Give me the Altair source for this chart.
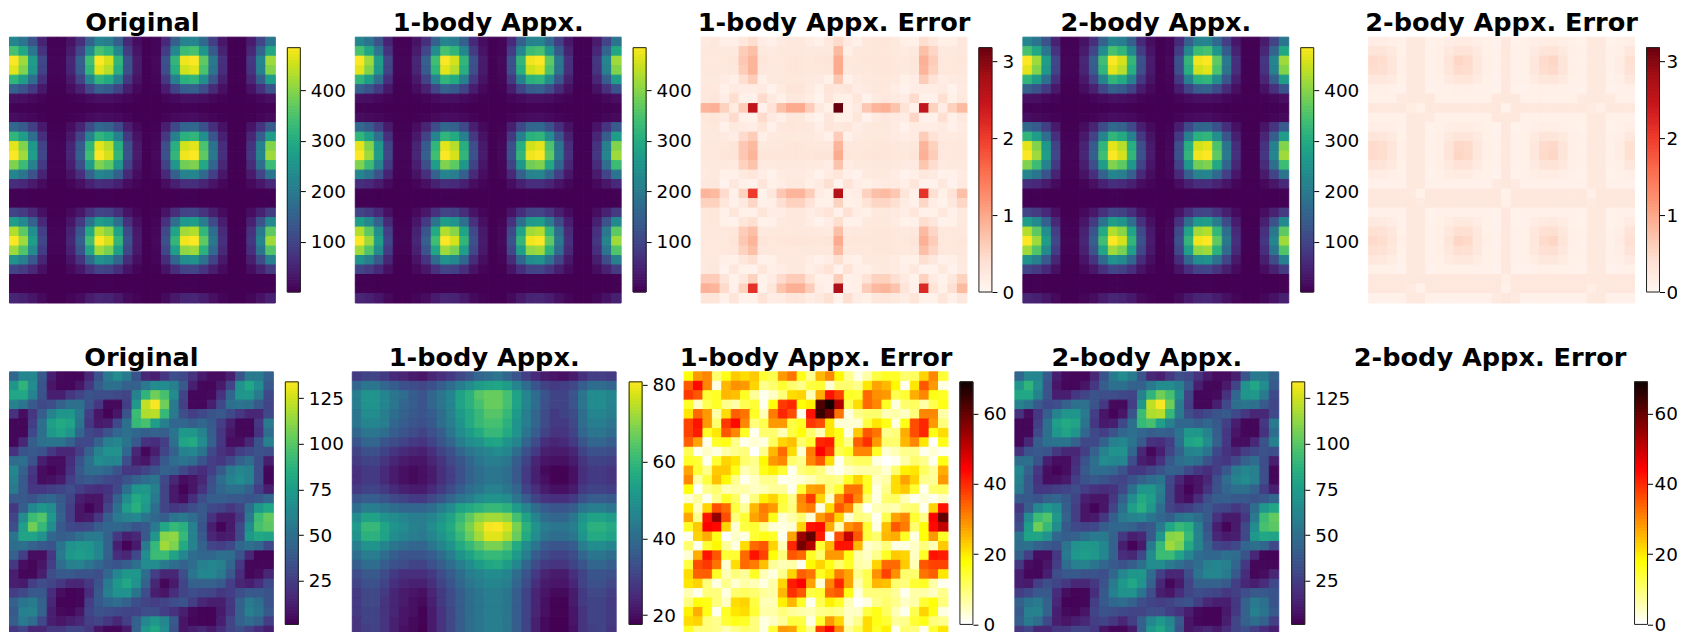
import altair as alt
import pandas as pd

ORIG_A = [
[220,187,122,45,3,3,23,65,150,220,205,144,54,16,2,5,54,144,214,220,164,88,29,2,2,34,99,187],
[343,290,189,70,4,4,35,101,234,343,318,224,84,25,2,7,84,224,332,343,255,136,45,2,2,52,154,290],
[484,415,270,100,5,5,50,145,335,484,455,320,120,35,2,10,120,320,475,484,365,195,65,2,2,75,220,415],
[465,394,256,95,5,5,47,138,318,465,432,304,114,33,2,9,114,304,451,465,347,185,62,2,2,71,209,394],
[318,270,175,65,3,3,32,94,218,318,296,208,78,23,2,6,78,208,309,318,237,127,42,2,2,49,143,270],
[147,124,81,30,2,2,15,43,100,147,136,96,36,10,1,3,36,96,142,147,110,58,20,1,1,22,66,124],
[20,17,11,4,1,1,2,6,13,20,18,13,5,2,1,1,5,13,19,20,15,8,3,1,1,3,9,17],
[3,3,2,1,1,1,1,1,2,3,3,2,1,1,1,1,1,2,3,3,2,1,1,1,1,1,2,3],
[15,12,8,3,1,1,2,4,10,15,14,10,4,1,1,1,4,10,14,15,11,6,2,1,1,2,7,12],
[162,137,89,33,2,2,16,48,110,162,150,106,40,12,1,3,40,106,157,162,120,64,21,1,1,25,73,137],
[318,270,175,65,3,3,32,94,218,318,296,208,78,23,2,6,78,208,309,318,237,127,42,2,2,49,143,270],
[465,394,256,95,5,5,47,138,318,465,432,304,114,33,2,9,114,304,451,465,347,185,62,2,2,71,209,394],
[484,415,270,100,5,5,50,145,335,484,455,320,120,35,2,10,120,320,475,484,365,195,65,2,2,75,220,415],
[392,332,216,80,4,4,40,116,268,392,364,256,96,28,2,8,96,256,380,392,292,156,52,2,2,60,176,332],
[220,187,122,45,3,3,23,65,150,220,205,144,54,16,2,5,54,144,214,220,164,88,29,2,2,34,99,187],
[64,54,35,13,1,1,6,19,44,64,59,42,16,5,1,1,16,42,62,64,47,25,8,1,1,10,29,54],
[2,2,1,1,1,1,1,1,1,2,2,1,1,1,1,1,1,1,2,2,1,1,1,1,1,1,1,2],
[2,2,1,1,1,1,1,1,1,2,2,1,1,1,1,1,1,1,2,2,1,1,1,1,1,1,1,2],
[98,83,54,20,1,1,10,29,67,98,91,64,24,7,1,2,24,64,95,98,73,39,13,1,1,15,44,83],
[270,228,148,55,3,3,28,80,184,270,250,176,66,19,1,6,66,176,261,270,201,107,36,1,1,41,121,228],
[431,365,238,88,4,4,44,128,295,431,400,282,106,31,2,9,106,282,418,431,321,172,57,2,2,66,194,365],
[484,415,270,100,5,5,50,145,335,484,455,320,120,35,2,10,120,320,475,484,365,195,65,2,2,75,220,415],
[416,353,230,85,4,4,42,123,285,416,387,272,102,30,2,8,102,272,404,416,310,166,55,2,2,64,187,353],
[245,208,135,50,2,2,25,72,168,245,228,160,60,18,1,5,60,160,238,245,182,98,32,1,1,38,110,208],
[98,83,54,20,1,1,10,29,67,98,91,64,24,7,1,2,24,64,95,98,73,39,13,1,1,15,44,83],
[2,2,1,1,1,1,1,1,1,2,2,1,1,1,1,1,1,1,2,2,1,1,1,1,1,1,1,2],
[2,2,1,1,1,1,1,1,1,2,2,1,1,1,1,1,1,1,2,2,1,1,1,1,1,1,1,2],
[49,42,27,10,1,1,5,14,34,49,46,32,12,4,1,1,12,32,48,49,36,20,6,1,1,8,22,42],
]

# hundredths
ERR1_A = [
[20,25,12,12,25,42,15,8,20,25,25,15,8,25,45,20,8,25,28,28,22,12,8,42,25,12,12,25],
[25,25,22,22,60,75,22,20,25,25,25,22,22,22,80,12,25,25,28,25,22,18,22,75,50,22,22,25],
[25,25,25,28,65,85,28,25,25,28,28,25,28,30,95,25,25,28,28,28,25,25,28,90,60,25,25,28],
[25,25,22,25,60,85,25,22,25,28,28,25,25,28,95,22,25,25,28,28,25,22,25,85,55,25,25,25],
[22,22,18,12,40,60,12,22,25,25,25,22,20,10,65,8,20,25,25,25,22,10,15,62,35,15,20,22],
[25,25,8,20,15,15,20,5,20,30,30,20,10,30,25,30,15,20,25,25,15,5,15,15,15,20,5,20],
[25,28,15,42,10,8,45,20,10,25,25,15,3,28,12,12,28,5,20,25,20,15,45,8,8,40,10,22],
[85,90,55,18,60,250,8,35,75,95,95,60,22,8,320,10,20,65,85,90,70,35,8,250,55,15,55,80],
[25,28,20,45,8,6,45,20,12,25,25,12,3,28,10,10,28,5,20,25,20,15,50,8,8,40,10,22],
[22,25,8,22,18,15,28,8,25,28,25,25,12,28,22,28,15,22,25,25,18,5,18,15,15,20,8,18],
[22,22,20,15,45,60,12,20,22,22,22,22,18,8,60,8,20,22,25,25,20,15,18,60,35,20,20,22],
[25,25,25,30,65,80,22,25,25,28,28,25,25,25,85,25,25,25,28,28,25,22,25,85,55,25,25,25],
[25,25,28,30,65,85,28,28,28,28,28,28,30,30,95,28,25,28,30,28,25,25,30,90,60,25,25,25],
[22,22,22,20,55,70,20,20,22,22,22,20,20,15,70,15,22,22,25,25,22,20,20,68,42,20,22,22],
[20,22,8,10,22,28,15,5,18,20,20,15,5,18,28,12,5,20,22,22,15,5,12,25,20,8,8,18],
[25,25,5,25,8,5,30,10,15,22,22,12,20,40,5,35,15,10,15,20,18,12,30,5,5,25,5,20],
[85,80,45,8,55,200,6,25,65,85,85,60,18,10,260,12,15,55,75,80,65,30,8,210,40,10,35,75],
[55,55,28,8,22,50,8,12,40,55,55,35,10,10,55,10,12,35,50,50,40,18,8,50,15,6,25,50],
[25,28,8,28,10,8,30,15,15,25,25,15,22,35,8,38,15,10,25,25,20,15,28,8,10,25,8,22],
[25,28,10,5,28,40,6,8,22,25,25,15,5,15,42,8,8,22,25,25,18,6,8,42,28,5,10,22],
[25,25,25,28,60,75,22,22,25,25,25,25,22,20,75,22,25,25,28,28,25,22,25,80,50,25,25,25],
[25,25,25,30,65,85,30,25,28,28,30,28,28,30,95,28,28,28,28,28,25,25,30,90,60,25,25,28],
[25,25,25,28,55,75,25,25,25,25,25,25,25,25,80,25,25,25,28,28,25,22,25,75,50,25,25,25],
[22,22,12,8,25,40,8,10,22,22,22,15,8,15,40,12,8,22,22,22,18,8,10,40,25,8,12,22],
[22,25,5,25,6,5,28,12,15,22,22,12,20,35,5,35,12,12,20,22,18,12,25,5,5,22,5,20],
[60,60,30,6,25,55,6,15,45,60,60,35,10,8,60,8,12,35,55,55,40,20,6,55,18,6,25,55],
[90,85,45,8,55,210,6,28,70,90,90,60,15,8,270,8,12,60,80,85,70,30,8,220,35,10,40,80],
[30,30,8,30,5,6,35,15,18,28,28,15,22,38,6,40,15,10,25,28,22,15,30,6,6,28,8,25],
]

ERR2_A = [
[15,15,12,8,22,22,6,10,15,18,18,14,10,6,24,6,8,14,16,16,14,10,6,22,22,6,10,14],
[30,30,22,10,22,22,8,12,22,32,32,20,10,8,24,8,10,20,30,32,22,12,8,22,22,8,12,26],
[45,42,28,12,22,22,8,12,30,50,45,25,12,8,24,8,10,25,45,50,30,12,8,22,22,8,15,38],
[42,40,28,12,22,22,8,12,28,45,42,25,12,8,24,8,10,25,42,46,30,12,8,22,22,8,15,36],
[26,26,20,10,22,22,8,10,20,28,28,18,10,8,24,8,8,18,26,28,20,10,8,22,22,8,12,24],
[12,12,10,7,22,22,7,8,10,12,12,10,8,6,24,6,7,10,12,12,10,8,7,22,22,7,9,12],
[10,10,10,20,22,22,24,10,10,10,10,10,10,24,24,24,10,10,10,10,10,10,20,22,22,20,10,10],
[24,24,24,24,16,10,24,24,24,24,24,24,24,24,6,24,24,24,24,24,24,24,24,18,12,24,24,24],
[10,10,10,10,22,22,20,10,10,10,10,10,10,24,24,24,10,10,10,10,10,10,10,22,22,10,10,10],
[14,14,12,8,22,22,6,10,14,16,16,12,10,6,24,6,8,12,14,14,12,10,6,22,22,6,10,14],
[30,28,20,10,22,22,8,12,22,30,30,20,10,8,24,8,10,20,30,30,22,12,8,22,22,8,12,26],
[45,42,28,12,22,22,8,12,30,48,45,25,12,8,24,8,10,25,45,48,30,12,8,22,22,8,15,38],
[45,42,28,12,22,22,8,12,30,50,46,25,12,8,24,8,10,25,46,50,30,12,8,22,22,8,15,38],
[32,30,22,10,22,22,8,12,22,34,32,20,10,8,24,8,10,20,32,34,24,12,8,22,22,8,12,28],
[16,16,12,8,22,22,6,10,16,18,18,12,10,6,24,6,8,14,16,16,14,10,6,22,22,6,10,14],
[8,8,8,8,22,22,8,8,8,8,8,8,8,20,24,20,8,8,8,8,8,8,8,22,22,8,8,8],
[26,26,26,26,22,10,26,26,26,26,26,26,26,26,8,26,26,26,26,26,26,26,26,12,24,26,26,26],
[26,26,26,26,26,20,26,26,26,26,26,26,26,26,12,26,26,26,26,26,26,26,26,20,26,26,26,26],
[8,8,8,8,22,22,6,8,8,8,8,8,8,6,24,6,8,8,8,8,8,8,6,22,22,6,8,8],
[22,20,15,8,22,22,6,10,16,22,22,16,10,6,24,6,8,16,20,22,16,10,6,22,22,6,10,18],
[38,36,25,10,22,22,8,12,26,40,38,24,10,8,24,8,10,24,38,40,26,12,8,22,22,8,14,32],
[46,42,28,12,22,22,8,12,30,50,46,25,12,8,24,8,10,25,45,50,30,12,8,22,22,8,15,38],
[38,36,25,10,22,22,8,12,26,40,38,24,10,8,24,8,10,24,38,40,26,12,8,22,22,8,14,32],
[24,24,16,8,22,22,8,10,18,26,26,16,10,8,24,8,8,16,24,26,18,10,8,22,22,8,12,20],
[10,10,9,7,22,22,7,8,10,10,10,9,8,7,24,7,7,9,10,10,9,8,7,22,22,7,8,10],
[24,24,24,24,24,24,24,24,24,24,24,24,24,24,14,24,24,24,24,24,24,24,24,24,24,24,24,24],
[24,24,24,24,20,8,24,24,24,24,24,24,24,24,8,24,24,24,24,24,24,24,24,14,22,24,24,24],
[8,8,8,8,22,22,8,8,8,8,8,8,8,20,24,20,8,8,8,8,8,8,8,22,22,8,8,8],
]

ORIG_B = [
[45,62,62,38,12,4,3,3,15,35,55,65,55,35,15,12,22,32,30,20,10,5,5,12,35,55,55,42],
[70,88,65,35,8,3,3,8,22,40,50,50,42,42,55,65,65,58,38,12,3,3,10,28,68,80,65,38],
[80,80,60,35,12,12,22,28,35,32,32,30,28,60,88,105,95,65,28,3,3,4,20,45,70,72,55,30],
[60,52,38,30,32,42,50,50,35,22,4,4,25,72,122,133,105,55,25,3,3,12,30,50,52,50,38,28],
[20,5,22,40,60,70,70,55,25,8,2,8,35,92,118,120,90,55,32,25,30,35,38,30,22,15,15,30],
[3,3,25,50,75,82,78,52,22,10,12,30,50,90,95,75,58,45,45,40,45,38,25,12,3,3,22,55],
[3,3,30,50,72,78,70,45,30,25,35,45,50,45,40,42,40,52,72,72,60,40,22,8,3,3,20,48],
[3,15,40,50,52,52,42,30,30,42,58,62,52,38,20,18,25,50,78,82,65,42,22,5,5,15,35,58],
[20,35,38,35,22,15,15,25,42,60,68,68,45,15,3,12,28,42,60,62,52,30,20,15,25,30,35,32],
[48,50,35,12,5,5,18,35,50,65,62,62,32,12,8,20,38,48,52,48,35,25,22,30,42,48,32,12],
[62,42,22,5,2,5,20,38,48,48,45,35,22,22,28,35,42,40,30,22,18,25,38,55,62,58,32,3],
[58,38,20,5,6,10,25,35,38,35,30,28,35,42,48,52,30,15,5,8,15,32,48,60,65,58,32,3],
[55,38,22,22,25,28,32,25,20,18,20,30,50,70,72,58,28,10,2,8,20,35,45,50,50,42,25,12],
[38,38,35,42,45,38,28,12,8,8,22,42,65,82,75,55,28,10,5,18,32,40,40,38,38,35,38,45],
[22,40,62,72,65,40,25,8,2,8,28,50,75,85,72,48,28,22,25,32,38,30,28,22,28,48,72,80],
[28,65,92,98,72,42,25,8,10,22,40,55,60,62,52,45,40,52,55,48,38,20,10,10,22,55,92,102],
[32,75,105,90,65,38,30,28,30,40,45,45,42,35,38,55,80,90,85,58,35,12,2,10,30,65,95,100],
[52,78,78,68,45,40,42,50,55,55,42,22,12,15,38,70,110,112,90,60,38,15,10,12,30,72,80,78],
[48,50,42,38,35,52,68,72,70,62,42,12,2,10,55,90,115,108,82,60,42,28,25,30,45,50,45,30],
[42,25,5,5,22,55,72,75,72,62,42,18,15,30,65,92,92,78,62,48,45,45,50,48,35,15,2,2],
[22,5,3,8,25,48,58,60,52,45,38,35,40,50,65,65,55,48,42,48,58,62,58,45,22,3,3,3],
[12,3,3,12,32,38,38,35,35,32,45,62,72,72,48,25,15,15,32,52,62,62,55,38,18,3,5,15],
[12,10,25,32,28,22,15,15,22,35,55,72,80,68,42,15,3,10,28,42,42,42,38,25,15,12,18,30],
[25,30,38,38,18,5,2,3,18,38,58,68,68,52,32,12,8,18,28,32,30,28,22,25,32,38,38,35],
[42,52,55,42,15,2,2,3,25,38,45,48,42,32,28,25,28,32,35,25,15,12,12,22,42,55,50,35],
[38,58,60,42,12,4,3,8,28,35,32,30,28,28,32,32,25,20,12,4,2,2,10,22,42,58,52,38],
[40,55,48,30,12,8,12,15,25,28,22,15,25,42,62,72,62,38,8,3,2,2,12,28,42,48,42,25],
[22,28,15,15,22,22,28,28,22,8,3,3,10,42,72,80,65,35,8,12,15,10,18,28,32,25,18,12],
]

BODY1_B = [
[28,30,30,28,25,24,22,21,24,26,28,31,34,38,40,42,38,34,29,25,22,21,20,22,26,29,29,28],
[38,42,42,38,36,33,32,31,33,36,40,44,48,52,54,55,52,46,40,34,30,28,29,31,36,40,40,38],
[44,50,50,46,42,40,36,34,38,42,46,54,58,64,66,66,62,54,46,40,34,30,30,34,42,48,48,46],
[44,50,50,46,42,38,36,34,38,42,46,54,58,62,66,66,62,54,46,40,33,30,30,34,42,48,48,45],
[42,48,48,44,40,37,35,34,36,40,45,52,56,60,64,64,60,52,44,38,32,28,30,32,40,46,46,44],
[42,46,46,44,38,36,34,33,35,40,44,50,56,60,62,62,58,50,44,38,32,28,28,31,40,44,44,42],
[38,42,42,40,36,34,32,30,33,36,42,48,52,56,60,60,56,50,42,36,30,27,27,30,38,42,42,40],
[34,38,38,34,32,30,28,27,30,34,38,44,48,50,54,55,50,46,38,32,26,24,25,28,34,38,38,36],
[30,33,33,30,27,25,24,23,26,30,33,38,42,44,46,48,46,40,33,28,23,22,22,24,30,33,33,32],
[28,30,30,27,24,22,21,21,24,27,31,34,38,42,44,44,42,36,30,24,21,20,20,22,27,30,30,29],
[26,28,28,25,22,20,19,20,22,26,29,33,37,40,42,42,40,35,28,23,19,18,18,20,26,28,28,27],
[26,28,28,25,22,20,19,20,22,26,29,33,37,40,42,42,40,35,28,23,20,18,18,20,26,28,28,27],
[28,30,30,28,25,23,22,22,25,28,32,36,40,42,45,45,42,38,30,26,22,20,20,22,28,30,30,29],
[34,36,36,34,31,30,28,28,31,34,38,42,44,48,50,50,48,42,36,30,27,26,26,28,33,36,36,35],
[40,44,44,42,40,38,38,38,40,44,48,54,56,58,60,60,58,52,46,40,36,34,34,36,42,44,44,42],
[48,54,54,50,48,46,44,44,46,50,54,60,65,70,72,72,70,62,54,46,40,38,38,42,50,54,54,52],
[52,60,60,55,50,48,45,44,48,52,56,62,68,74,80,81,77,68,58,50,44,42,42,44,52,58,58,56],
[50,58,58,54,48,46,44,43,46,50,54,60,66,72,78,78,74,66,56,48,42,40,40,42,50,56,56,54],
[44,50,50,46,42,40,38,38,42,46,50,56,60,64,68,68,64,56,48,42,36,34,34,36,44,48,48,46],
[40,44,44,40,36,34,34,34,36,40,44,50,54,58,60,60,58,52,44,36,32,30,30,32,38,42,42,40],
[36,40,40,36,33,32,30,30,33,36,40,44,48,52,55,56,52,46,38,32,28,27,27,30,34,38,38,36],
[32,35,35,32,28,26,26,26,28,32,36,40,44,46,48,48,46,40,34,28,24,22,22,26,30,34,34,33],
[30,33,33,30,26,24,23,23,26,30,34,38,42,44,46,46,44,38,32,26,22,21,21,24,30,33,33,31],
[28,31,31,28,24,22,21,20,24,28,32,36,40,42,44,44,42,36,30,24,21,19,19,22,28,31,31,29],
[28,31,31,27,24,22,20,19,23,28,32,36,40,42,44,44,42,36,30,24,20,18,18,22,28,30,30,28],
[28,30,30,27,24,21,20,18,22,27,31,36,40,42,44,44,42,36,30,24,20,18,18,21,27,30,30,28],
[27,30,30,27,23,21,19,18,22,27,31,36,40,42,44,44,42,36,30,23,19,17,17,21,27,30,30,28],
[27,29,30,27,23,20,19,17,22,27,31,36,40,42,44,44,42,36,30,23,19,17,17,20,27,29,30,27],
]

ERR1_B = [
[17,28,30,10,16,23,21,23,14,12,28,32,16,8,25,30,18,8,2,6,13,15,15,10,11,22,30,14],
[35,43,30,2,25,29,28,22,8,10,14,10,8,13,14,3,10,10,8,20,27,25,18,1,20,35,28,2],
[38,35,14,15,25,24,15,7,1,4,9,21,22,5,26,42,37,15,14,33,29,28,12,14,26,30,16,15],
[15,4,12,15,8,6,12,14,1,17,38,40,17,19,62,68,52,12,21,33,30,15,2,10,11,6,12,16],
[20,33,28,6,21,34,32,15,5,31,40,36,1,42,64,58,32,2,8,10,10,5,6,4,9,30,30,6],
[37,42,28,10,38,43,30,9,12,28,28,13,15,38,36,20,3,3,3,13,20,16,2,16,36,40,28,9],
[37,41,15,20,35,30,15,1,10,10,5,13,17,10,5,20,16,2,23,35,32,8,9,26,36,40,16,21],
[34,27,1,15,16,8,1,3,2,11,22,24,10,14,40,41,15,8,34,39,28,10,10,25,30,20,0,16],
[12,1,4,2,6,8,9,0,8,25,33,21,3,31,44,38,12,15,30,30,15,3,5,8,8,1,3,1],
[15,14,1,14,22,20,10,8,18,28,30,10,8,30,35,21,1,9,11,11,2,0,1,6,10,8,1,16],
[27,14,8,23,23,16,5,7,16,19,14,1,9,11,9,3,1,4,6,6,6,3,10,19,20,11,7,26],
[30,6,13,24,18,8,1,4,8,8,1,2,3,5,8,9,8,15,22,15,4,6,21,27,22,8,7,28],
[17,0,8,10,5,6,6,4,5,7,7,1,14,27,28,9,14,32,32,15,2,8,21,23,14,1,10,11],
[3,7,1,8,15,11,2,9,19,22,14,8,30,38,22,4,30,38,30,10,2,10,11,5,1,3,1,4],
[20,4,22,36,33,13,7,25,31,28,13,9,29,31,2,21,35,30,8,0,5,6,5,9,10,1,22,42],
[27,8,42,55,36,9,14,27,30,16,3,6,10,3,28,33,22,3,9,8,1,12,27,30,14,8,44,60],
[15,23,44,43,22,3,13,14,8,3,2,3,22,42,43,26,5,29,32,14,2,24,35,31,10,17,43,50],
[1,22,26,16,0,4,2,14,16,15,1,27,54,60,41,0,36,50,35,13,10,25,26,15,2,17,28,15],
[10,1,14,18,7,2,21,33,35,22,5,40,58,52,14,25,42,42,25,3,5,9,2,2,4,9,5,23],
[3,26,42,35,14,14,33,42,37,17,9,35,33,15,10,28,28,16,6,4,8,15,23,22,4,15,42,41],
[13,36,38,32,3,21,33,31,24,7,5,6,1,18,22,16,10,15,6,5,22,33,33,23,5,35,37,37],
[21,34,34,15,5,9,7,15,5,2,8,22,34,32,15,20,31,27,8,12,29,37,29,10,10,32,34,20],
[20,22,9,2,8,3,6,5,2,6,22,41,44,27,3,30,40,27,5,12,25,24,10,9,14,15,6,1],
[5,1,9,9,2,10,11,10,7,6,25,39,35,13,14,33,35,16,2,9,9,9,7,1,6,6,4,8],
[9,17,16,9,4,21,22,13,5,5,19,25,15,1,12,19,15,5,0,2,8,10,8,4,6,14,17,9],
[19,26,16,1,15,20,21,14,6,6,9,7,6,5,8,9,8,4,4,13,16,11,5,1,12,22,16,2],
[21,22,9,8,14,16,15,9,2,4,7,13,13,2,14,28,22,4,8,21,16,14,7,8,14,16,9,8],
[15,9,9,8,5,8,10,9,2,14,28,27,15,8,38,44,30,7,12,21,15,19,1,10,9,1,14,20],
]

ZEROS = [[0] * 28 for _ in range(28)]

TITLES = ["Original", "1-body Appx.", "1-body Appx. Error", "2-body Appx.", "2-body Appx. Error"]
TICKS_VIRIDIS_A = [100, 200, 300, 400]
TICKS_ERR_A = [0, 1, 2, 3]
TICKS_B = [25, 50, 75, 100, 125]
TICKS_BODY1_B = [20, 40, 60, 80]
TICKS_ERR_B = [0, 20, 40, 60]

FONT = "DejaVu Sans"
REDS = ["#fff5f0", "#fee0d2", "#fcbba1", "#fc9272", "#fb6a4a", "#ef3b2c", "#cb181d", "#a50f15", "#67000d"]
HOT = ["#ffffff", "#ffff00", "#ff0000", "#0b0000"]


def viridis(lo, hi):
    return alt.Scale(scheme="viridis", domain=[lo, hi], clamp=True)


def reds(hi):
    return alt.Scale(domain=[hi * i / 8 for i in range(9)], range=REDS, clamp=True, interpolate="rgb")


def hot(hi):
    return alt.Scale(domain=[0, hi * .254, hi * .635, hi], range=HOT, clamp=True, interpolate="rgb")


def heat(matrix, title, scale, lead, w, trail, h, k=1):
    df = pd.DataFrame([{"c": c, "r": r, "v": v / k}
                       for r, row in enumerate(matrix) for c, v in enumerate(row)])
    return alt.Chart(df).mark_rect(strokeWidth=1).encode(
        x=alt.X("c:O", axis=None, scale=alt.Scale(range=[lead, lead + w], paddingInner=0, paddingOuter=0)),
        y=alt.Y("r:O", axis=None, scale=alt.Scale(paddingInner=0, paddingOuter=0)),
        color=alt.Color("v:Q", scale=scale, legend=None),
        stroke=alt.Stroke("v:Q", scale=scale, legend=None),
    ).properties(
        width=lead + w + trail, height=h,
        title=alt.TitleParams(title, font=FONT, fontWeight="bold", fontSize=25.6, color="black",
                              anchor="middle", dx=(lead - trail) / 2, offset=0),
    )


def bar(scale, lo, hi, ticks, h, top, bottom, w=13, pad=5):
    n = 80
    df = pd.DataFrame({"v0": [lo + (hi - lo) * i / n for i in range(n)],
                       "v1": [lo + (hi - lo) * (i + 1) / n for i in range(n)]})
    ys = alt.Scale(domain=[lo, hi], range=[bottom, top], nice=False, zero=False)
    ax = alt.Axis(orient="right", values=ticks, domain=False, grid=False, tickSize=5,
                  tickColor="black", tickWidth=1, labelColor="black", labelFont=FONT,
                  labelFontSize=18.4, labelPadding=pad)
    ramp = alt.Chart(df).mark_rect(strokeWidth=1).encode(
        x=alt.value(0), x2=alt.value(w),
        y=alt.Y("v0:Q", scale=ys, title=None, axis=ax),
        y2="v1:Q",
        color=alt.Color("v0:Q", scale=scale, legend=None),
        stroke=alt.Stroke("v0:Q", scale=scale, legend=None),
    )
    frame = alt.Chart(pd.DataFrame({"a": [lo], "b": [hi]})).mark_rect(
        fillOpacity=0, stroke="#222222", strokeWidth=1).encode(
        x=alt.value(0), x2=alt.value(w),
        y=alt.Y("a:Q", scale=ys, title=None, axis=ax), y2="b:Q")
    return alt.layer(ramp, frame).properties(width=w, height=h)


A_H, B_H = 266, 264
vA = viridis(0.5, 485)
rA = reds(3.18)
top = [
    (ORIG_A, vA, 1, 0, 266, 12, 0.5, 485, TICKS_VIRIDIS_A, 5),
    (ORIG_A, vA, 1, 55, 266, 12, 0.5, 485, TICKS_VIRIDIS_A, 5),
    (ERR1_A, rA, 100, 55, 266, 12, 0, 3.18, TICKS_ERR_A, 5),
    (ORIG_A, vA, 1, 31, 266, 12, 0.5, 485, TICKS_VIRIDIS_A, 5),
    (ERR2_A, rA, 100, 55, 266, 12, 0, 3.18, TICKS_ERR_A, 1.5),
]
row_a = []
for t, (m, s, k, lead, w, trail, lo, hi, tk, pad) in zip(TITLES, top):
    row_a.append(heat(m, t, s, lead, w, trail, A_H, k))
    row_a.append(bar(s, lo, hi, tk, A_H, 10.5, 255, pad=pad))

vB = viridis(1, 134)
v1 = viridis(17.6, 80.7)
hB = hot(69)
bottom = [
    (ORIG_B, vB, 0, 264, 12, 1, 134, TICKS_B, 5),
    (BODY1_B, v1, 54, 264, 13, 17.6, 80.7, TICKS_BODY1_B, 5),
    (ERR1_B, hB, 42, 264, 12, 0, 69, TICKS_ERR_B, 5),
    (ORIG_B, vB, 42, 264, 13, 1, 134, TICKS_B, 5),
    (ZEROS, hB, 53.5, 264, 12.5, 0, 69, TICKS_ERR_B, 1.5),
]
row_b = []
for t, (m, s, lead, w, trail, lo, hi, tk, pad) in zip(TITLES, bottom):
    row_b.append(heat(m, t, s, lead, w, trail, B_H))
    row_b.append(bar(s, lo, hi, tk, B_H, 10, 252.7, pad=pad))

RES = dict(color="independent", stroke="independent", x="independent", y="independent")
ra = alt.hconcat(*row_a, spacing=0, bounds="flush").resolve_scale(**RES)
rb = alt.hconcat(*row_b, spacing=0, bounds="flush").resolve_scale(**RES)
chart = alt.vconcat(ra, rb, spacing=40.9).properties(
    padding={"left": 0.5, "top": 2.0, "right": -1.5, "bottom": 0}
).configure_view(stroke=None).resolve_scale(**RES)

chart.save("out.html", embed_options={"renderer": "svg", "actions": False})
